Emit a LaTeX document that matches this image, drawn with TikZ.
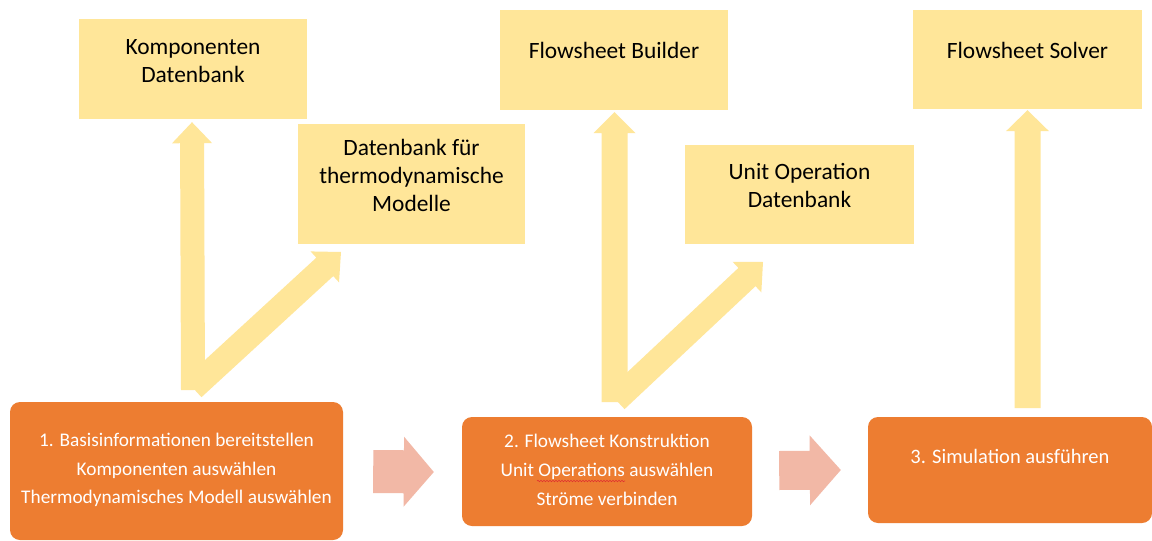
\documentclass[tikz,border=0pt]{standalone}
\usepackage{fontspec}
\setmainfont{Carlito}
\usetikzlibrary{calc,decorations.pathmorphing}
\definecolor{ylw}{HTML}{FFE699}
\definecolor{org}{HTML}{ED7D31}
\definecolor{pnk}{HTML}{F2B8A6}
\definecolor{squig}{HTML}{E03030}
% #1 name, #2 start, #3 end, #4 half shaft, #5 half head, #6 head length, #7 colour
\newcommand\fatarrow[7]{%
  \coordinate (#1h) at ($(#3)!#6!(#2)$);
  \fill[#7] ($(#2)!#4!90:(#3)$) -- ($(#1h)!#4!90:(#3)$) -- ($(#1h)!#5!90:(#3)$) -- (#3)
    -- ($(#1h)!#5!-90:(#3)$) -- ($(#1h)!#4!-90:(#3)$) -- ($(#2)!#4!-90:(#3)$) -- cycle;}
\begin{document}
\begin{tikzpicture}[x=1pt,y=-1pt,
  ybox/.style={rectangle,fill=ylw,draw=none,inner sep=0pt},
  obox/.style={rectangle,fill=org,draw=none,inner sep=0pt,rounded corners=10pt},
  ytext/.style={align=center,inner sep=0pt,text=black,font=\fontsize{23.4}{28}\selectfont},
  otext/.style={align=center,inner sep=0pt,text=white,font=\fontsize{19.3}{28.8}\selectfont}]
\useasboundingbox[fill=white] (0,0) rectangle (1152,541);
% yellow boxes
\node[ybox,minimum width=228pt,minimum height=100pt] (komp) at (193,69) {};
\node[ybox,minimum width=227pt,minimum height=120pt] (thermo) at (411.5,184) {};
\node[ybox,minimum width=228pt,minimum height=100pt] (builder) at (614,60) {};
\node[ybox,minimum width=229pt,minimum height=99pt] (unitop) at (799.5,194.5) {};
\node[ybox,minimum width=229pt,minimum height=99pt] (solver) at (1027.5,59.5) {};
% orange boxes
\node[obox,minimum width=333pt,minimum height=138pt] (b1) at (176.5,471) {};
\node[obox,minimum width=290pt,minimum height=109pt] (b2) at (607,471.5) {};
\node[obox,minimum width=284pt,minimum height=106pt] (b3) at (1010,470) {};
% texts
\node[ytext] (kompT) at (193,61) {Komponenten\\Datenbank};
\node[ytext] (thermoT) at (411.5,175) {Datenbank für\\thermodynamische\\Modelle};
\node[ytext] (builderT) at (614,50) {Flowsheet Builder};
\node[ytext] (unitopT) at (799.5,185) {Unit Operation\\Datenbank};
\node[ytext] (solverT) at (1027.5,50) {Flowsheet Solver};
\node[otext] (b1T) at (176.5,470) {1. Basisinformationen bereitstellen\\Komponenten auswählen\\Thermodynamisches Modell auswählen};
\node[otext] (b2T) at (607,470) {2. Flowsheet Konstruktion\\Unit Operations auswählen\\Ströme verbinden};
\node[otext,font=\fontsize{20.5}{28}\selectfont] (b3T) at (1010,456) {3. Simulation ausführen};
% connector end points
\coordinate (a1s) at (komp.south |- 0,390);
\coordinate (a1e) at ($(komp.south)+(-1,3)$);
\coordinate (d1s) at (193,388);
\coordinate (d1e) at (341,252);
\coordinate (a2s) at (614.5,402);
\coordinate (a2e) at ($(builder.south)+(0.5,2)$);
\coordinate (d2s) at (616,400);
\coordinate (d2e) at (763,262);
\coordinate (a3s) at (1027.5,408);
\coordinate (a3e) at ($(solver.south)+(0,1)$);
\coordinate (p1s) at ($(b1.east)+(30,0.5)$);
\coordinate (p1e) at ($(b2.west)+(-28,0.5)$);
\coordinate (p2s) at ($(b2.east)+(27,-1)$);
\coordinate (p2e) at ($(b3.west)+(-27,0)$);
% yellow arrows
\fatarrow{a1}{a1s}{a1e}{12pt}{20pt}{21pt}{ylw}
\fatarrow{d1}{d1s}{d1e}{12.5pt}{21pt}{22pt}{ylw}
\fatarrow{a2}{a2s}{a2e}{13pt}{21pt}{21pt}{ylw}
\fatarrow{d2}{d2s}{d2e}{12.5pt}{21pt}{22pt}{ylw}
\fatarrow{a3}{a3s}{a3e}{13pt}{21.5pt}{21pt}{ylw}
% pink arrows
\fatarrow{p1}{p1s}{p1e}{21.5pt}{35pt}{30pt}{pnk}
\fatarrow{p2}{p2s}{p2e}{19.5pt}{35pt}{31pt}{pnk}
% spell-check squiggle
\draw[squig,line width=0.6pt,decorate,decoration={snake,amplitude=0.7pt,segment length=3pt}] (537,481) -- (625,481);
\end{tikzpicture}
\end{document}
